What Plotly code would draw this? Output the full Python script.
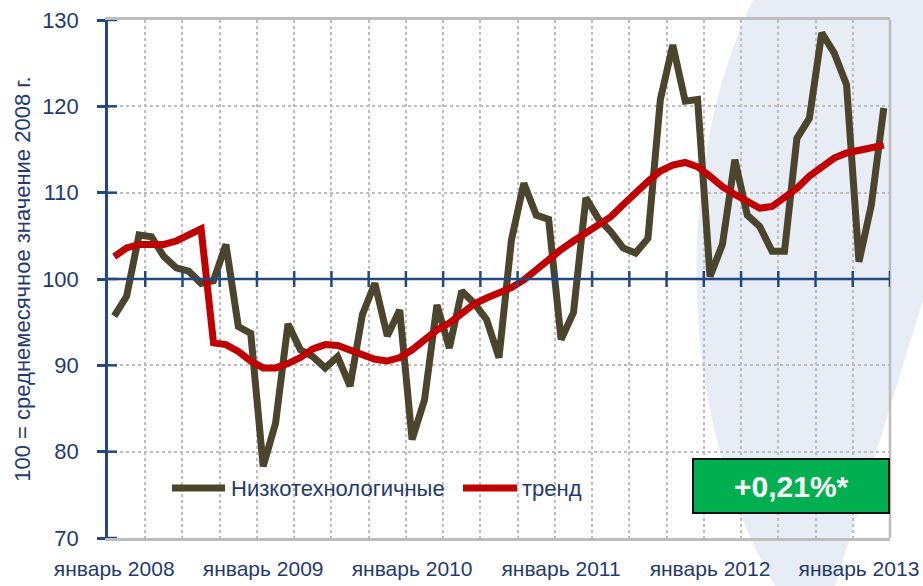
import plotly.graph_objects as go

# ---- data ----
low_tech = [95.7, 98.0, 105.1, 104.9, 102.6, 101.3, 100.9, 99.5, 99.8, 104.0, 94.5, 93.7,
            78.3, 83.3, 94.8, 91.8, 91.0, 89.7, 91.0, 87.6, 95.9, 99.5, 93.4, 96.4,
            81.4, 86.0, 97.0, 92.0, 98.6, 97.2, 95.3, 90.9, 104.5, 111.1, 107.4, 106.9,
            93.0, 96.1, 109.4, 107.0, 105.5, 103.6, 103.0, 104.7, 120.8, 127.1, 120.6, 120.8,
            100.3, 104.0, 113.8, 107.4, 106.1, 103.2, 103.2, 116.3, 118.6, 128.5, 126.2, 122.5,
            102.0, 108.6, 119.8]
trend = [102.6, 103.6, 104.0, 104.0, 104.0, 104.4, 105.0, 105.8, 92.6, 92.4, 91.6, 90.5,
         89.7, 89.7, 90.2, 90.9, 91.9, 92.4, 92.3, 91.7, 91.1, 90.7, 90.5, 90.9,
         91.8, 93.0, 94.1, 94.9, 96.1, 97.1, 97.8, 98.4, 99.0, 99.9, 101.1, 102.2,
         103.4, 104.4, 105.4, 106.3, 107.2, 108.6, 110.0, 111.3, 112.5, 113.2, 113.5, 113.0,
         111.9, 110.7, 109.8, 109.0, 108.2, 108.4, 109.4, 110.5, 111.9, 113.0, 114.0, 114.6,
         115.0, 115.2, 115.5]
month_index = list(range(len(low_tech)))  # январь 2008 ... март 2013
tick_positions = [0, 12, 24, 36, 48, 60]
tick_labels = ["январь 2008", "январь 2009", "январь 2010", "январь 2011",
               "январь 2012", "январь 2013"]
series_names = ["Низкотехнологичные", "тренд"]
series_colors = ["#4B452D", "#C00000"]
badge_text = "+0,21%*"
y_title = "100 = среднемесячное значение 2008 г."

FONT = "Liberation Sans, Arial, sans-serif"
NAVY = "#1F3B6E"
AXIS_BLUE = "#24497F"
GRID = "#BDBDBD"

W, H = 923, 586
L, T, R, B = 108, 20, 33, 48
pw, ph = W - L - R, H - T - B


def px(xs):  # screen x -> paper
    return (xs - L) / pw


def py(ys):  # screen y -> paper
    return (H - B - ys) / ph


fig = go.Figure()
for name, vals, col in zip(series_names, [low_tech, trend], series_colors):
    fig.add_trace(go.Scatter(x=month_index, y=vals, mode="lines", name=name,
                             line=dict(color=col, width=7), showlegend=False,
                             hoverinfo="skip"))

shapes = []
# background swoosh
path = (f"M {px(753)},{py(0)} C {px(680)},{py(150)} {px(668)},{py(400)} {px(775)},{py(586)} "
        f"L {px(835)},{py(586)} L {px(923)},{py(300)} L {px(923)},{py(0)} Z")
shapes.append(dict(type="path", xref="paper", yref="paper", path=path,
                   fillcolor="#E7ECF5", line=dict(width=0), layer="below"))
# right border
shapes.append(dict(type="line", xref="paper", yref="paper", x0=1, x1=1, y0=0, y1=1,
                   line=dict(color=GRID, width=2.5)))
# 100 baseline with crossing ticks
shapes.append(dict(type="line", xref="paper", yref="y", x0=0, x1=1, y0=100, y1=100,
                   line=dict(color=AXIS_BLUE, width=2.5)))
n = len(month_index)
for k in range(1, n // 3 + 1):
    xv = -0.5 + 3 * k
    shapes.append(dict(type="line", xref="x", yref="y", ysizemode="pixel", yanchor=100,
                       x0=xv, x1=xv, y0=-8, y1=8, line=dict(color=AXIS_BLUE, width=2.5)))
# inward part of y ticks
for v in range(70, 131, 10):
    shapes.append(dict(type="line", xref="paper", yref="y", xsizemode="pixel", xanchor=0,
                       x0=0, x1=9, y0=v, y1=v, line=dict(color=AXIS_BLUE, width=2.5)))
# legend samples
legend_samples = [(172, 225), (463, 517)]
legend_text_x = [229, 520]
annotations = []
for (a, b), tx, name, col in zip(legend_samples, legend_text_x, series_names, series_colors):
    shapes.append(dict(type="line", xref="paper", yref="paper", x0=px(a), x1=px(b),
                       y0=py(488), y1=py(488), line=dict(color=col, width=7)))
    annotations.append(dict(x=px(tx), y=py(488), xref="paper", yref="paper", text=name,
                            showarrow=False, xanchor="left", yanchor="middle",
                            font=dict(family=FONT, size=22, color=NAVY)))
# badge
shapes.append(dict(type="rect", xref="paper", yref="paper", x0=px(693), x1=px(889),
                   y0=py(513), y1=py(459), fillcolor="#00B050",
                   line=dict(color="#111111", width=2)))
annotations.append(dict(x=px(791), y=py(486), xref="paper", yref="paper", text=badge_text,
                        showarrow=False, xanchor="center", yanchor="middle",
                        font=dict(family=FONT, size=30, color="white", weight="bold")))

fig.update_layout(
    width=W, height=H,
    margin=dict(l=L, r=R, t=T, b=B, autoexpand=False),
    paper_bgcolor="white",
    plot_bgcolor="rgba(0,0,0,0)",
    shapes=shapes,
    annotations=annotations,
    showlegend=False,
    hovermode=False,
    xaxis=dict(range=[-0.5, n - 0.5], tickmode="array", tickvals=tick_positions,
               ticktext=tick_labels, showgrid=False, zeroline=False, ticks="",
               showline=True, linecolor=GRID, linewidth=2.5, mirror=True, automargin=False,
               tickfont=dict(family=FONT, size=21, color=NAVY), ticklabelstandoff=10,
               minor=dict(tickmode="array", tickvals=[-0.5 + 3 * k for k in range(1, n // 3)],
                          showgrid=True, gridcolor=GRID, griddash="dot", gridwidth=1.5,
                          ticks="")),
    yaxis=dict(range=[70, 130], tickmode="array", tickvals=list(range(70, 131, 10)),
               showgrid=True, gridcolor=GRID, griddash="dot", gridwidth=1.5,
               zeroline=False, showline=True, linecolor=AXIS_BLUE, linewidth=2.5,
               ticks="outside", ticklen=8, tickwidth=2.5, tickcolor=AXIS_BLUE, automargin=False,
               tickfont=dict(family=FONT, size=22, color=NAVY), ticklabelstandoff=14,
               title=dict(text=y_title, font=dict(family=FONT, size=22, color=NAVY),
                          standoff=6)),
)

fig.write_html("out.html",
               config={"displayModeBar": False},
               post_script="document.body.style.margin='0';"
                           "document.body.style.overflow='hidden';")
